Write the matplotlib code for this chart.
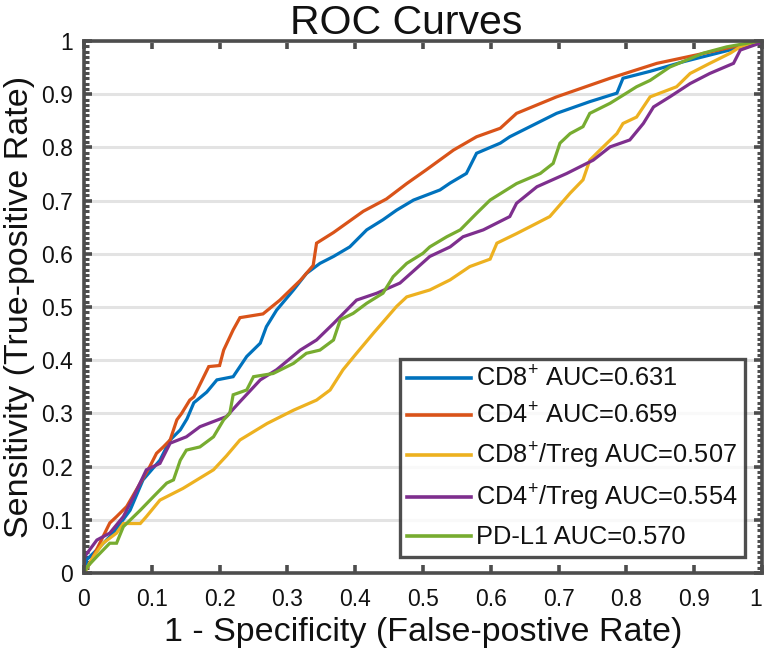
import matplotlib
matplotlib.use("Agg")
import matplotlib.pyplot as plt
from matplotlib.ticker import MultipleLocator

plt.rcParams['font.family'] = ['Liberation Sans', 'DejaVu Sans']
plt.rcParams['mathtext.fontset'] = 'custom'
plt.rcParams['mathtext.rm'] = 'Liberation Sans'
plt.rcParams['mathtext.it'] = 'Liberation Sans'

# ---- data ----
cd8_x = [0, 0.004, 0.024, 0.043, 0.068, 0.087, 0.112, 0.127, 0.142, 0.152, 0.162, 0.181, 0.196, 0.22, 0.24,
         0.26, 0.269, 0.284, 0.309, 0.328, 0.348, 0.368, 0.392, 0.417, 0.441, 0.461, 0.486, 0.525, 0.54, 0.564,
         0.579, 0.614, 0.628, 0.697, 0.746, 0.786, 0.795, 0.835, 0.884, 0.943, 0.992, 1]
cd8_y = [0, 0.025, 0.05, 0.075, 0.118, 0.175, 0.212, 0.25, 0.269, 0.29, 0.32, 0.34, 0.363, 0.369, 0.407,
         0.432, 0.463, 0.494, 0.532, 0.563, 0.582, 0.595, 0.613, 0.645, 0.664, 0.682, 0.701, 0.72, 0.733, 0.751,
         0.789, 0.808, 0.82, 0.864, 0.886, 0.902, 0.93, 0.943, 0.961, 0.98, 0.996, 1]

cd4_x = [0, 0.009, 0.038, 0.048, 0.063, 0.083, 0.097, 0.107, 0.117, 0.127, 0.137, 0.144, 0.156, 0.162, 0.184,
         0.2, 0.206, 0.22, 0.23, 0.264, 0.289, 0.319, 0.338, 0.343, 0.368, 0.39, 0.412, 0.446, 0.476, 0.505,
         0.545, 0.579, 0.614, 0.638, 0.697, 0.776, 0.845, 0.904, 0.982, 1]
cd4_y = [0, 0.019, 0.094, 0.106, 0.125, 0.169, 0.2, 0.225, 0.237, 0.25, 0.288, 0.3, 0.325, 0.331, 0.388,
         0.39, 0.419, 0.457, 0.48, 0.487, 0.513, 0.55, 0.578, 0.62, 0.64, 0.66, 0.68, 0.703, 0.732, 0.758,
         0.795, 0.82, 0.836, 0.864, 0.895, 0.93, 0.958, 0.974, 0.996, 1]

cd8treg_x = [0, 0.014, 0.028, 0.048, 0.058, 0.083, 0.092, 0.112, 0.146, 0.191, 0.21, 0.23, 0.27, 0.309, 0.343,
             0.363, 0.382, 0.402, 0.427, 0.461, 0.476, 0.51, 0.54, 0.569, 0.599, 0.609, 0.638, 0.658, 0.687,
             0.717, 0.736, 0.746, 0.761, 0.786, 0.795, 0.815, 0.835, 0.874, 0.894, 0.923, 0.953, 0.968, 0.992, 1]
cd8treg_y = [0, 0.031, 0.056, 0.075, 0.093, 0.093, 0.106, 0.137, 0.159, 0.194, 0.22, 0.25, 0.281, 0.306, 0.325,
             0.344, 0.382, 0.413, 0.451, 0.501, 0.519, 0.532, 0.551, 0.576, 0.59, 0.62, 0.638, 0.651, 0.67,
             0.714, 0.739, 0.776, 0.795, 0.826, 0.845, 0.857, 0.895, 0.914, 0.939, 0.958, 0.977, 0.989, 0.999, 1]

cd4treg_x = [0, 0.001, 0.019, 0.038, 0.058, 0.073, 0.092, 0.112, 0.127, 0.151, 0.171, 0.21, 0.23, 0.26, 0.284,
             0.319, 0.343, 0.368, 0.402, 0.432, 0.466, 0.51, 0.54, 0.559, 0.589, 0.628, 0.638, 0.668, 0.712,
             0.751, 0.776, 0.805, 0.825, 0.84, 0.864, 0.894, 0.923, 0.958, 0.968, 0.997, 1]
cd4treg_y = [0, 0.031, 0.062, 0.075, 0.106, 0.143, 0.194, 0.206, 0.244, 0.256, 0.275, 0.294, 0.322, 0.363, 0.382,
             0.419, 0.438, 0.469, 0.513, 0.526, 0.545, 0.595, 0.613, 0.632, 0.645, 0.67, 0.695, 0.726, 0.751,
             0.776, 0.801, 0.814, 0.845, 0.876, 0.895, 0.92, 0.939, 0.958, 0.983, 0.996, 1]

pdl1_x = [0, 0.005, 0.019, 0.038, 0.048, 0.058, 0.083, 0.102, 0.122, 0.132, 0.142, 0.151, 0.171, 0.191, 0.206,
          0.215, 0.22, 0.24, 0.25, 0.279, 0.309, 0.328, 0.348, 0.368, 0.378, 0.397, 0.417, 0.441, 0.456, 0.476,
          0.5, 0.51, 0.535, 0.555, 0.579, 0.599, 0.638, 0.673, 0.692, 0.702, 0.717, 0.736, 0.746, 0.776, 0.8,
          0.815, 0.835, 0.864, 0.913, 0.948, 0.992, 1]
pdl1_y = [0, 0.012, 0.031, 0.056, 0.056, 0.087, 0.118, 0.143, 0.169, 0.175, 0.212, 0.231, 0.237, 0.256, 0.288,
          0.3, 0.335, 0.344, 0.369, 0.375, 0.394, 0.413, 0.419, 0.438, 0.476, 0.488, 0.507, 0.526, 0.557, 0.582,
          0.601, 0.613, 0.632, 0.645, 0.676, 0.701, 0.732, 0.751, 0.77, 0.808, 0.826, 0.839, 0.864, 0.883, 0.902,
          0.914, 0.926, 0.951, 0.977, 0.989, 0.999, 1]

labels = [r'CD8$\mathregular{^{+}}$ AUC=0.631',
          r'CD4$\mathregular{^{+}}$ AUC=0.659',
          r'CD8$\mathregular{^{+}}$/Treg AUC=0.507',
          r'CD4$\mathregular{^{+}}$/Treg AUC=0.554',
          'PD-L1 AUC=0.570']
colors = ['#0072BD', '#D95319', '#EDB120', '#7E2F8E', '#77AC30']
series = [(cd8_x, cd8_y), (cd4_x, cd4_y), (cd8treg_x, cd8treg_y), (cd4treg_x, cd4treg_y), (pdl1_x, pdl1_y)]

xticks = [0, 0.1, 0.2, 0.3, 0.4, 0.5, 0.6, 0.7, 0.8, 0.9, 1]
xticklabels = ['0', '0.1', '0.2', '0.3', '0.4', '0.5', '0.6', '0.7', '0.8', '0.9', '1']
yticks = xticks
yticklabels = xticklabels

# ---- figure ----
fig = plt.figure(figsize=(7.64, 6.54), dpi=100)
ax = fig.add_axes([84 / 764, 1 - 573 / 654, 678 / 764, 532 / 654])

for (xs, ys), c, lab in zip(series, colors, labels):
    ax.plot(xs, ys, color=c, lw=2.3, label=lab, solid_joinstyle='miter')

ax.set_xlim(0, 1)
ax.set_ylim(0, 1)
ax.set_xticks(xticks)
ax.set_xticklabels(xticklabels)
ax.set_yticks(yticks)
ax.set_yticklabels(yticklabels)
ax.yaxis.set_minor_locator(MultipleLocator(0.01))
ax.get_xticklabels()[-1].set_horizontalalignment('right')

spine_col = '#4d4d4d'
for s in ax.spines.values():
    s.set_color(spine_col)
    s.set_linewidth(2.6)

ax.tick_params(axis='both', which='major', direction='in', length=6, width=2.6, color=spine_col,
               labelsize=16.5, labelcolor='#111111', top=True, right=True)
ax.tick_params(axis='x', which='major', pad=11)
ax.tick_params(axis='y', which='major', pad=8)
ax.tick_params(axis='y', which='minor', direction='in', length=3.5, width=2.2, color=spine_col,
               left=True, right=True)
ax.tick_params(axis='x', which='minor', bottom=False, top=False)

ax.yaxis.grid(True, which='major', color='#e3e3e3', lw=2.2)
ax.set_axisbelow(True)

ax.set_title('ROC Curves', fontsize=29.5, color='#111111', pad=5, x=0.475)
ax.set_xlabel('1 - Specificity (False-postive Rate)', fontsize=24.5, color='#111111', labelpad=4)
ax.set_ylabel('Sensitivity (True-positive Rate)', fontsize=24.5, color='#111111', labelpad=4)

leg = ax.legend(loc='lower right', bbox_to_anchor=(0.975, 0.030), borderaxespad=0, fontsize=18.3,
                frameon=True, fancybox=False, handlelength=2.5, handletextpad=0.2,
                labelspacing=0.47, borderpad=0.3)
leg.get_frame().set_edgecolor('#222222')
leg.get_frame().set_linewidth(2.4)
for line in leg.get_lines():
    line.set_linewidth(2.6)
for t in leg.get_texts():
    t.set_color('#111111')

fig.savefig('out.png', dpi=100)
